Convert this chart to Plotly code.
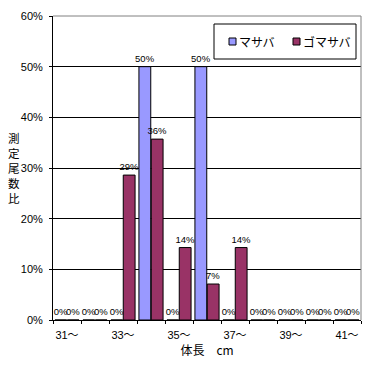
import plotly.graph_objects as go

categories = ["31～", "32～", "33～", "34～", "35～", "36～", "37～", "38～", "39～", "40～", "41～"]
masaba = [0, 0, 0, 0.50, 0, 0.50, 0, 0, 0, 0, 0]
gomasaba = [0, 0, 0.286, 0.357, 0.143, 0.071, 0.143, 0, 0, 0, 0]
series_names = ["マサバ", "ゴマサバ"]
series_colors = ["#9999FF", "#993366"]
tick_text = [c if i % 2 == 0 else "" for i, c in enumerate(categories)]
y_ticks = [0, 0.1, 0.2, 0.3, 0.4, 0.5, 0.6]
y_title = "測<br>定<br>尾<br>数<br>比"
x_title = "体長　cm"

num_font = "Liberation Sans Narrow, Liberation Sans, Noto Sans CJK JP"
jp_font = "Noto Sans CJK JP"

fig = go.Figure()
for name, vals, col in zip(series_names, [masaba, gomasaba], series_colors):
    fig.add_trace(go.Bar(
        name=name, x=categories, y=vals,
        marker=dict(color=col, line=dict(color="black", width=1)),
        texttemplate="%{y:.0%}", textposition="outside", constraintext="none",
        cliponaxis=False, textfont=dict(size=9.5, color="black", family=num_font),
        showlegend=False,
    ))

L, R, T, B = 53, 11, 16, 45
PW, PH = 372 - L - R, 365 - T - B


def px(xp):
    return (xp - L) / PW


def py(yp):
    return (365 - B - yp) / PH


shapes = [
    dict(type="line", xref="paper", yref="paper", x0=0, x1=1, y0=1, y1=1,
         line=dict(color="#808080", width=1), layer="above"),
    dict(type="line", xref="paper", yref="paper", x0=1, x1=1, y0=0, y1=1,
         line=dict(color="#808080", width=1), layer="above"),
    # legend box
    dict(type="rect", xref="paper", yref="paper", x0=px(214), x1=px(356), y0=py(59), y1=py(24),
         line=dict(color="black", width=1), fillcolor="white", layer="above"),
]
annotations = [
    dict(text=y_title, xref="paper", yref="paper",
         x=px(14), y=py(168), xanchor="center", yanchor="middle",
         showarrow=False, font=dict(family=jp_font, size=11.5, color="black")),
]
# legend entries
leg_sq_x = [229, 293]
for sx, name, col in zip(leg_sq_x, series_names, series_colors):
    shapes.append(dict(type="rect", xref="paper", yref="paper",
                       x0=px(sx), x1=px(sx + 7), y0=py(45), y1=py(38),
                       line=dict(color="black", width=1), fillcolor=col, layer="above"))
    annotations.append(dict(text=name, xref="paper", yref="paper",
                            x=px(sx + 8), y=py(41.5), xanchor="left", yanchor="middle",
                            showarrow=False, font=dict(family=jp_font, size=12, color="black")))

fig.update_layout(
    width=372, height=365,
    margin=dict(l=L, r=R, t=T, b=B, pad=0, autoexpand=False),
    paper_bgcolor="white", plot_bgcolor="white",
    barmode="group", bargap=0.12, bargroupgap=0.04,
    font=dict(family=num_font, size=11, color="black"),
    showlegend=False,
    xaxis=dict(
        type="category", tickmode="array", tickvals=categories, ticktext=tick_text,
        tickson="boundaries", ticks="outside", ticklen=3, tickcolor="black", tickangle=0,
        ticklabelstandoff=5,
        showline=True, linecolor="black", linewidth=1, showgrid=False, automargin=False,
        tickfont=dict(size=11, family=num_font),
        title=dict(text=x_title, font=dict(size=12, family=jp_font), standoff=0),
        range=[-0.5, 10.5],
    ),
    yaxis=dict(
        range=[0, 0.6], tickmode="array", tickvals=y_ticks, tickformat=".0%",
        ticks="outside", ticklen=3, tickcolor="black", automargin=False,
        ticklabelstandoff=4,
        showline=True, linecolor="black", linewidth=1,
        showgrid=True, gridcolor="black", gridwidth=1, zeroline=False,
        tickfont=dict(size=11, family=num_font),
    ),
    shapes=shapes,
    annotations=annotations,
)

fig.write_html("out.html", config={"displayModeBar": False},
               post_script="document.body.style.margin='0';document.body.style.padding='0';")
